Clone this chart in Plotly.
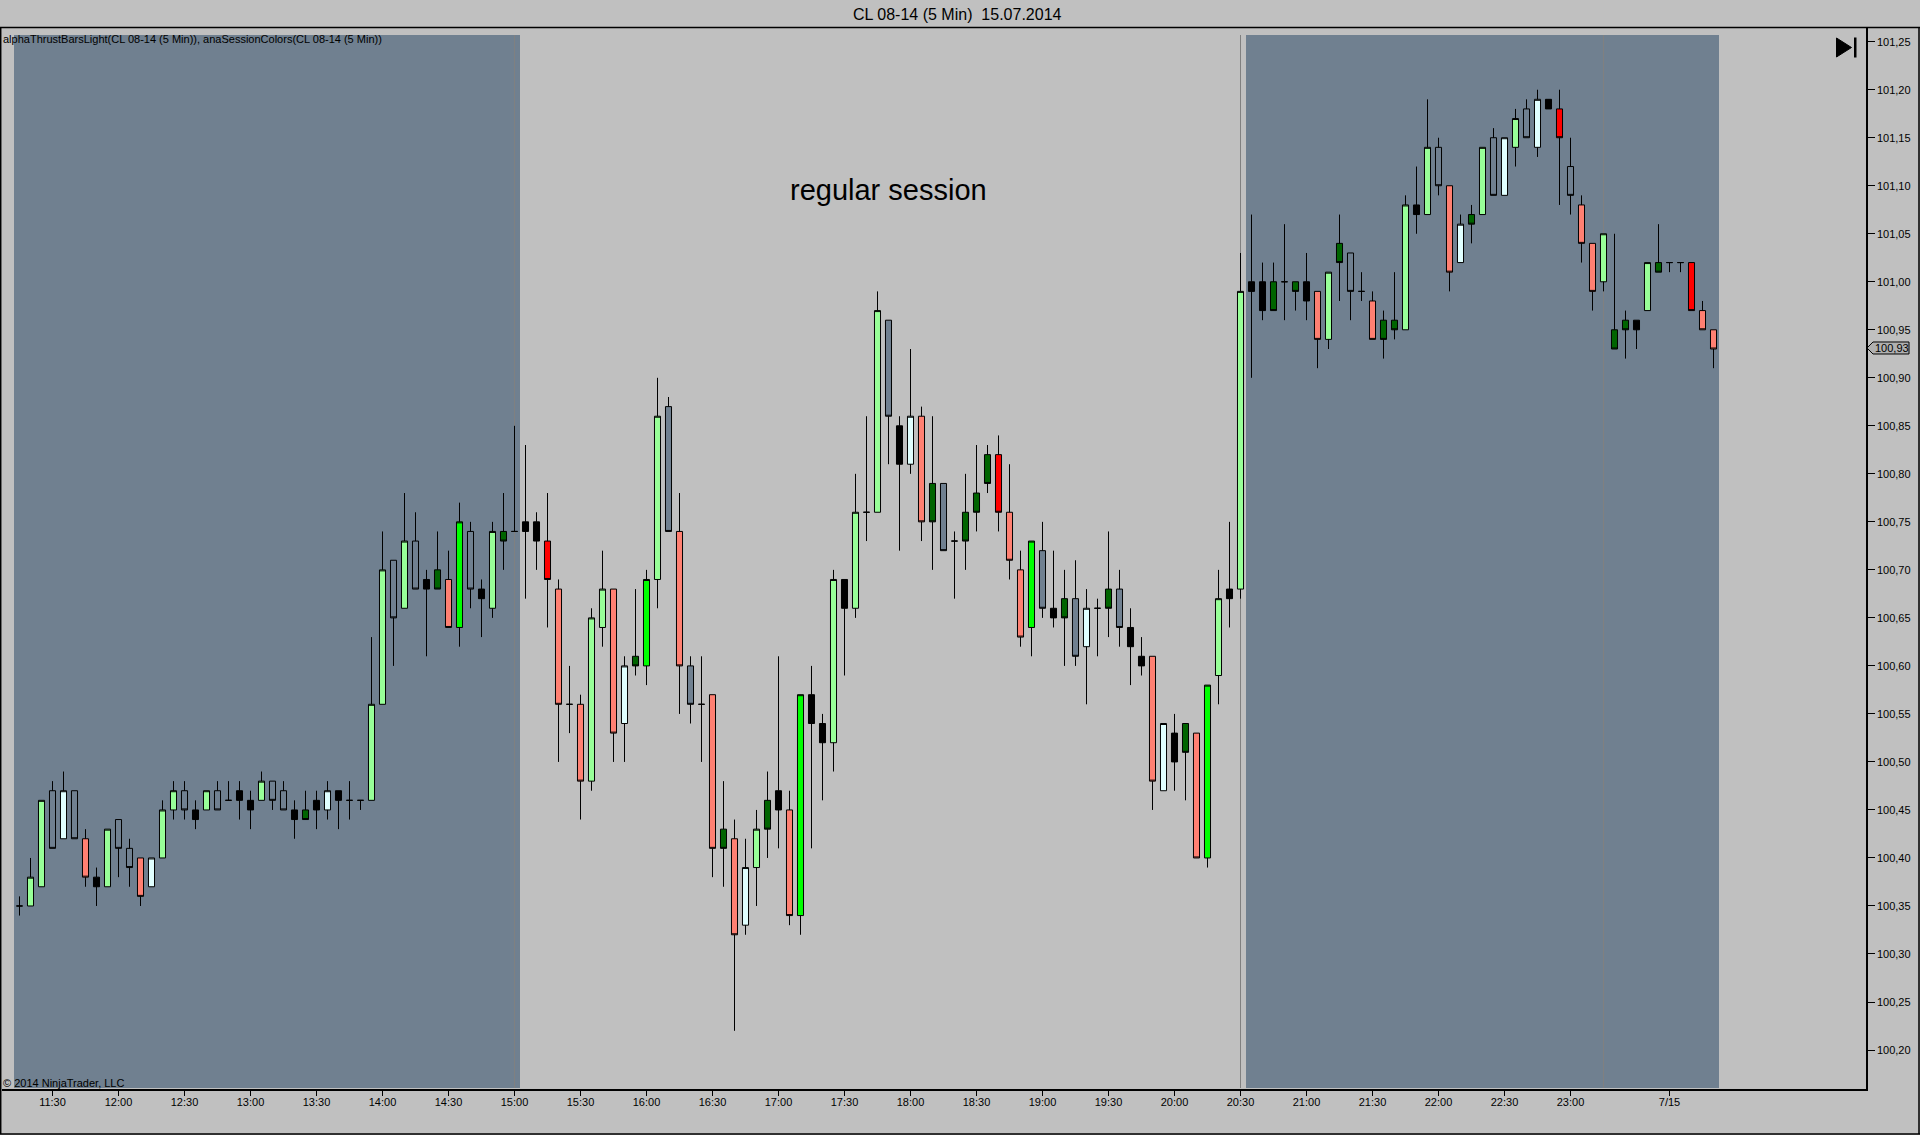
import plotly.graph_objects as go

# ---- data (prices in 1/100 dollars) ----
body_top = [10035,10038,10046,10047,10047,10047,10042,10038,10043,10044,
10041,10040,10040,10045,10047,10047,10045,10047,10047,10046,
10047,10046,10048,10048,10047,10045,10045,10046,10047,10047,
10046,10046,10056,10070,10071,10073,10073,10069,10070,10069,
10075,10074,10068,10074,10074,10074,10075,10075,10073,10068,
10056,10056,10065,10068,10068,10060,10061,10069,10086,10087,
10074,10060,10056,10057,10043,10042,10039,10043,10046,10047,
10045,10057,10057,10054,10069,10069,10076,10076,10097,10096,
10085,10086,10086,10079,10079,10073,10076,10078,10082,10082,
10076,10070,10073,10072,10066,10067,10067,10066,10066,10068,
10068,10064,10061,10061,10054,10053,10054,10053,10058,10067,
10068,10099,10100,10100,10100,10100,10100,10100,10099,10101,
10104,10103,10099,10098,10096,10096,10108,10108,10114,10114,
10110,10106,10107,10114,10115,10115,10117,10118,10119,10119,
10118,10112,10108,10104,10105,10095,10096,10096,10102,10102,
10102,10102,10102,10097,10095]
body_bottom = [10035,10035,10037,10041,10042,10042,10038,10037,10037,10041,
10039,10036,10037,10040,10045,10045,10044,10045,10045,10046,
10046,10045,10046,10046,10045,10044,10044,10045,10045,10046,
10046,10046,10046,10056,10065,10066,10068,10068,10068,10064,
10064,10068,10067,10066,10073,10074,10074,10073,10069,10056,
10056,10048,10048,10064,10053,10054,10060,10060,10069,10074,
10060,10056,10056,10041,10041,10032,10033,10039,10043,10045,
10034,10034,10054,10052,10052,10066,10066,10076,10076,10086,
10081,10081,10075,10075,10072,10073,10073,10076,10079,10076,
10071,10063,10064,10066,10065,10065,10061,10062,10066,10066,
10064,10062,10060,10048,10047,10050,10051,10040,10040,10059,
10067,10068,10099,10097,10097,10100,10099,10098,10094,10094,
10102,10099,10099,10094,10094,10095,10095,10107,10107,10110,
10101,10102,10106,10107,10109,10109,10114,10115,10114,10118,
10115,10109,10104,10099,10100,10093,10095,10095,10097,10101,
10102,10102,10097,10095,10093]
highs = [10036,10040,10046,10048,10049,10047,10043,10039,10043,10044,
10042,10040,10040,10046,10048,10048,10046,10047,10048,10048,
10048,10047,10049,10048,10048,10046,10047,10047,10048,10047,
10048,10046,10063,10074,10071,10078,10076,10070,10074,10072,
10077,10075,10069,10075,10078,10085,10083,10076,10078,10069,
10060,10057,10066,10072,10068,10061,10068,10070,10090,10088,
10078,10061,10061,10057,10048,10044,10042,10045,10049,10061,
10047,10057,10060,10055,10070,10069,10080,10086,10099,10096,
10086,10093,10087,10086,10079,10074,10080,10083,10083,10084,
10081,10072,10073,10075,10072,10070,10071,10068,10067,10074,
10070,10066,10063,10061,10054,10055,10054,10053,10058,10070,
10075,10103,10107,10102,10102,10106,10100,10103,10099,10101,
10107,10103,10101,10099,10097,10101,10109,10112,10119,10115,
10110,10107,10108,10114,10116,10115,10118,10119,10120,10119,
10120,10115,10109,10104,10105,10105,10097,10096,10102,10106,
10102,10102,10102,10098,10095]
lows = [10034,10035,10037,10041,10042,10042,10037,10035,10037,10038,
10037,10035,10037,10040,10044,10044,10043,10045,10045,10046,
10044,10043,10046,10045,10045,10042,10044,10043,10044,10043,
10044,10045,10046,10056,10060,10066,10068,10061,10068,10064,
10062,10066,10063,10065,10070,10074,10067,10070,10064,10050,
10053,10044,10047,10062,10050,10050,10059,10058,10066,10074,
10055,10054,10050,10038,10037,10022,10032,10035,10040,10041,
10033,10032,10041,10046,10049,10059,10065,10073,10076,10081,
10072,10080,10073,10070,10072,10067,10070,10074,10078,10074,
10069,10062,10061,10065,10064,10060,10060,10056,10061,10063,
10062,10058,10059,10045,10047,10047,10046,10040,10039,10056,
10064,10067,10090,10096,10097,10096,10097,10096,10091,10093,
10098,10096,10098,10094,10092,10094,10095,10105,10107,10109,
10099,10102,10104,10107,10109,10109,10112,10115,10113,10118,
10108,10107,10102,10097,10099,10093,10092,10093,10097,10101,
10101,10101,10097,10095,10091]
bar_class = list(
"KPPSCSOKPS" "SOCPPSKPSK" "KKPSSKDKCK" "KKPPSPSKDO"
"LSKPDKKKRO" "KOPPOCDLPS" "OSKODOCPDK" "OLKKPKPKPS"
"KCODSKDDDR" "OOLSKDSCKD" "SKKOCKDOLP" "KPKKDKDKOP"
"DSKODDPKPS" "OCDPSCPSCK" "RSOOPDDKPD" "KKROO")

class_color = {"K": "#000000", "P": "#98FF98", "S": "#708090", "C": "#E0FFFF",
               "O": "#FF8072", "D": "#006400", "L": "#00FF00", "R": "#FF0000"}
falling_classes = "KOSRD"

x_tick_bars = [3, 9, 15, 21, 27, 33, 39, 45, 51, 57, 63, 69, 75, 81, 87, 93, 99, 105,
               111, 117, 123, 129, 135, 141, 150]
x_tick_text = ["11:30", "12:00", "12:30", "13:00", "13:30", "14:00", "14:30", "15:00",
               "15:30", "16:00", "16:30", "17:00", "17:30", "18:00", "18:30", "19:00",
               "19:30", "20:00", "20:30", "21:00", "21:30", "22:00", "22:30", "23:00", "7/15"]
y_ticks = [100.20, 100.25, 100.30, 100.35, 100.40, 100.45, 100.50, 100.55, 100.60, 100.65,
           100.70, 100.75, 100.80, 100.85, 100.90, 100.95, 101.00, 101.05, 101.10, 101.15,
           101.20, 101.25]
session_bands = [(-0.5, 45.5), (111.5, 154.5)]
session_breaks = [45, 111, 144]
last_price = 100.93

# ---- page geometry ----
W, H = 1920, 1135
L, R, T, B = 2, 1866, 28, 1089
BAR_PX = 11.0
X0_PX = 19.5
Y_REF_PX, PX_PER_USD = 41.7, 960.3


def px_x(p):
    return (p - L) / (R - L)


def px_y(p):
    return (B - p) / (B - T)


x_range = [(L - X0_PX) / BAR_PX, (R - X0_PX) / BAR_PX]
y_range = [101.25 - (B - Y_REF_PX) / PX_PER_USD, 101.25 - (T - Y_REF_PX) / PX_PER_USD]

fig = go.Figure()
for key, col in class_color.items():
    idx = [i for i, c in enumerate(bar_class) if c == key]
    falling = key in falling_classes
    fig.add_trace(go.Candlestick(
        x=idx,
        open=[(body_top[i] if falling else body_bottom[i]) / 100 for i in idx],
        close=[(body_bottom[i] if falling else body_top[i]) / 100 for i in idx],
        high=[highs[i] / 100 for i in idx],
        low=[lows[i] / 100 for i in idx],
        increasing=dict(fillcolor=col, line=dict(color="#000000", width=1)),
        decreasing=dict(fillcolor=col, line=dict(color="#000000", width=1)),
        whiskerwidth=0, showlegend=False, hoverinfo="skip",
    ))

shapes = []
for a, b in session_bands:
    shapes.append(dict(type="rect", xref="x", yref="paper", x0=a, x1=b,
                       y0=px_y(1088), y1=px_y(35), fillcolor="#708090",
                       line=dict(width=0), layer="below"))
for s in session_breaks:
    shapes.append(dict(type="line", xref="x", yref="paper", x0=s, x1=s,
                       y0=px_y(1088), y1=px_y(35),
                       line=dict(color="#808080", width=1), layer="below"))
# window frame and heading rule
frame = dict(color="#000000", width=1.5)
shapes += [
    dict(type="line", xref="paper", yref="paper", x0=px_x(0), x1=px_x(1920), y0=px_y(27.5), y1=px_y(27.5), line=frame),
    dict(type="line", xref="paper", yref="paper", x0=px_x(1919), x1=px_x(1919), y0=px_y(27.5), y1=px_y(1134), line=frame),
    dict(type="line", xref="paper", yref="paper", x0=px_x(0), x1=px_x(1920), y0=px_y(1134), y1=px_y(1134), line=frame),
    dict(type="line", xref="paper", yref="paper", x0=px_x(0.7), x1=px_x(0.7), y0=px_y(27.5), y1=px_y(1134), line=frame),
]


def path_px(points):
    return "M" + " L".join(f"{px_x(a):.6f},{px_y(b):.6f}" for a, b in points) + " Z"


# go-to-end button
shapes.append(dict(type="path", xref="paper", yref="paper",
                   path=path_px([(1836.5, 38), (1851.5, 47.5), (1836.5, 57)]),
                   fillcolor="#000000", line=dict(color="#000000", width=1)))
shapes.append(dict(type="rect", xref="paper", yref="paper", x0=px_x(1854), x1=px_x(1856.5),
                   y0=px_y(57.5), y1=px_y(37.5), fillcolor="#000000", line=dict(width=0)))
# last-price tag
shapes.append(dict(type="path", xref="paper", yref="paper",
                   path=path_px([(1867, 348), (1873, 342), (1909, 342), (1909, 354), (1873, 354)]),
                   fillcolor="#B0B0B0", line=dict(color="#000000", width=1)))

FONT = "Liberation Sans"
annotations = [
    dict(text="CL 08-14 (5 Min)  15.07.2014", xref="paper", yref="paper", x=px_x(957), y=px_y(14.5),
         xanchor="center", yanchor="middle", showarrow=False, font=dict(family=FONT, size=16, color="#000000")),
    dict(text="regular session", xref="paper", yref="paper", x=px_x(888), y=px_y(189.5),
         xanchor="center", yanchor="middle", showarrow=False, font=dict(family=FONT, size=29, color="#000000")),
    dict(text="alphaThrustBarsLight(CL 08-14 (5 Min)), anaSessionColors(CL 08-14 (5 Min))",
         xref="paper", yref="paper", x=px_x(1), y=px_y(39), xanchor="left", yanchor="middle",
         showarrow=False, font=dict(family=FONT, size=11, color="#000000")),
    dict(text="© 2014 NinjaTrader, LLC", xref="paper", yref="paper", x=px_x(1), y=px_y(1083),
         xanchor="left", yanchor="middle", showarrow=False, font=dict(family=FONT, size=11, color="#000000")),
    dict(text=f"{last_price:.2f}".replace(".", ","), xref="paper", yref="paper", x=px_x(1892), y=px_y(348),
         xanchor="center", yanchor="middle", showarrow=False, font=dict(family=FONT, size=11, color="#000000")),
]

fig.update_layout(
    width=W, height=H, autosize=False,
    margin=dict(l=L, r=W - R, t=T, b=H - B, pad=0),
    paper_bgcolor="#C0C0C0", plot_bgcolor="#C0C0C0",
    boxmode="overlay", boxgap=0.45, boxgroupgap=0,
    separators=",.",
    shapes=shapes, annotations=annotations,
    font=dict(family=FONT, size=11, color="#000000"),
    hovermode=False, showlegend=False,
    xaxis=dict(type="linear", range=x_range, tickmode="array", tickvals=x_tick_bars, ticktext=x_tick_text,
               showgrid=False, zeroline=False, showline=True, linecolor="#000000", linewidth=1.5,
               ticks="outside", ticklen=5, tickwidth=1, tickcolor="#000000", tickangle=0, ticklabelstandoff=-3,
               rangeslider=dict(visible=False), tickfont=dict(family=FONT, size=11, color="#000000")),
    yaxis=dict(type="linear", range=y_range, side="right", tickmode="array", tickvals=y_ticks,
               tickformat=".2f", showgrid=False, zeroline=False, showline=True, linecolor="#000000",
               linewidth=1.5, ticks="outside", ticklen=7, tickwidth=1, tickcolor="#000000",
               tickfont=dict(family=FONT, size=11, color="#000000")),
)

fig.write_html("out.html", config=dict(displayModeBar=False, responsive=False),
               post_script="document.body.style.margin='0';document.body.style.background='#C0C0C0';")
